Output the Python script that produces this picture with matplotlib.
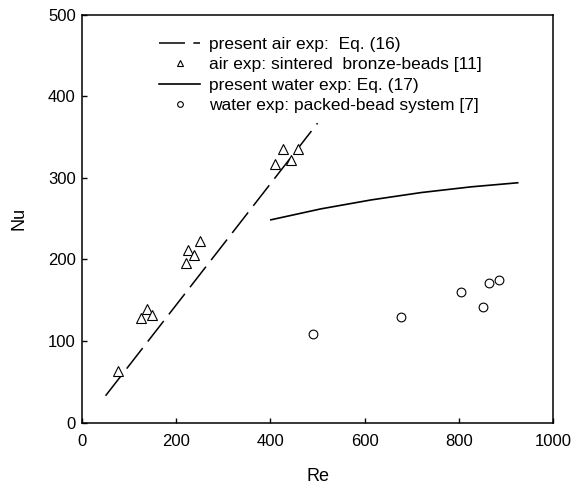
import matplotlib
matplotlib.use("Agg")
import matplotlib.pyplot as plt

plt.rcParams['font.family'] = ['Liberation Sans', 'DejaVu Sans']

# Eq. (16): present air experiment (dashed line)
air_eq_re = [50, 500]
air_eq_nu = [33, 367]

# air exp: sintered bronze-beads [11]
air_re = [76, 125, 137, 148, 221, 224, 237, 251, 410, 426, 444, 459]
air_nu = [63, 128, 139, 132, 196, 211, 206, 223, 317, 335, 322, 336]

# Eq. (17): present water experiment (solid curve)
water_eq_re = [401, 507, 614, 720, 826, 925]
water_eq_nu = [248.6, 262, 273, 282, 289, 294]

# water exp: packed-bead system [7]
water_re = [491, 677, 804, 851, 864, 886]
water_nu = [109, 129, 160, 142, 171, 175]

xticks = [0, 200, 400, 600, 800, 1000]
yticks = [0, 100, 200, 300, 400, 500]

fig = plt.figure(figsize=(5.83, 4.86), dpi=100)
ax = fig.add_axes([0.1407, 0.1303, 0.8079, 0.8395])

ax.plot(air_eq_re, air_eq_nu, color='black', lw=1.1, dashes=(17, 5.5),
        label='present air exp:  Eq. (16)')
ax.plot(air_re, air_nu, linestyle='none', marker='^', ms=7.2, mfc='white',
        mec='black', mew=0.8, label='air exp: sintered  bronze-beads [11]')
ax.plot(water_eq_re, water_eq_nu, color='black', lw=1.2,
        label='present water exp: Eq. (17)')
ax.plot(water_re, water_nu, linestyle='none', marker='o', ms=6.3, mfc='white',
        mec='black', mew=0.8, label='water exp: packed-bead system [7]')

ax.set_xlim(0, 1000)
ax.set_ylim(0, 500)
ax.set_xticks(xticks)
ax.set_yticks(yticks)
ax.tick_params(direction='in', length=3.5, width=1.0, labelsize=12,
               top=False, right=False)
ax.tick_params(axis='x', pad=8)
ax.tick_params(axis='y', pad=4.5)
for s in ax.spines.values():
    s.set_linewidth(1.1)

ax.set_xlabel('Re', fontsize=13, labelpad=14)
ax.set_ylabel('Nu', fontsize=13, labelpad=15)

ax.legend(loc='upper left', bbox_to_anchor=(0.1635, 0.945), frameon=False,
          fontsize=12.5, borderaxespad=0, borderpad=0, handlelength=2.36,
          handletextpad=0.52, labelspacing=0.29, markerscale=0.65)

fig.savefig('out.png', dpi=100)
